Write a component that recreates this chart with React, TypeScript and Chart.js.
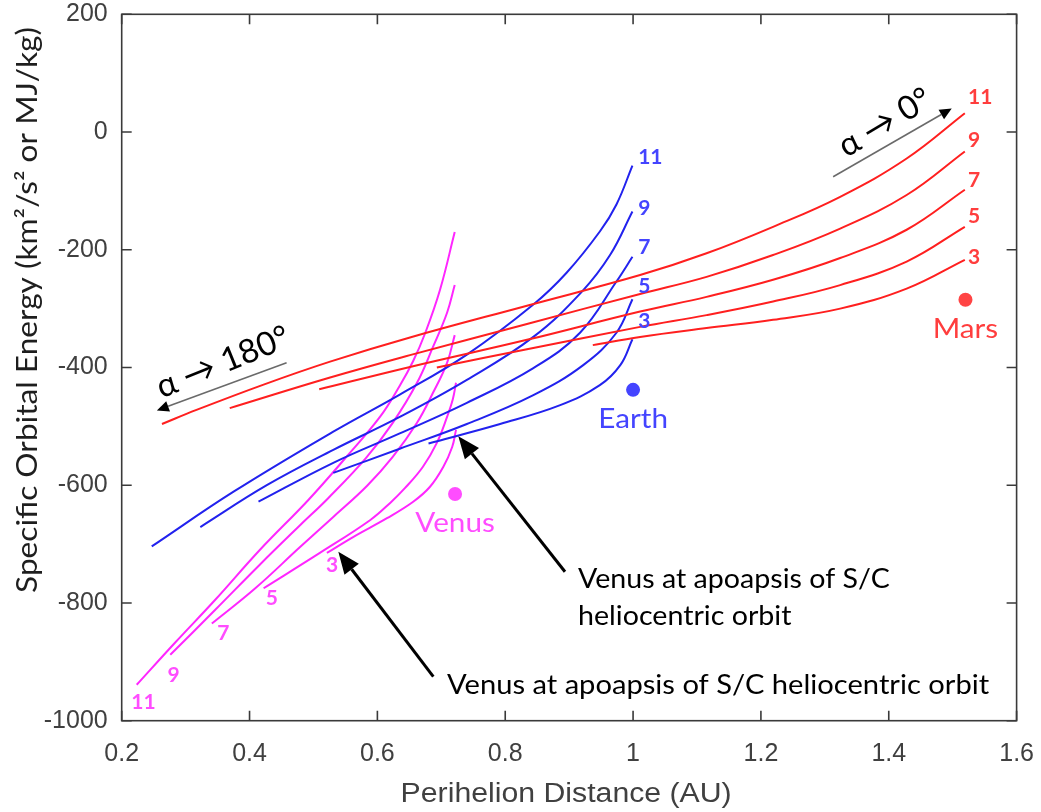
import { useEffect, useRef } from "react";
import { Chart, registerables } from "chart.js";

Chart.register(...registerables);

// ---------- axis ticks ----------
const xTicks = [0.2, 0.4, 0.6, 0.8, 1, 1.2, 1.4, 1.6];
const yTicks = [-1000, -800, -600, -400, -200, 0, 200];

// ---------- Mars family (red) : [perihelion AU, energy MJ/kg] ----------
const mars11: [number, number][] = [[0.263, -496], [0.317, -472], [0.422, -429], [0.526, -390], [0.651, -349], [0.834, -295], [1.011, -243], [1.115, -206], [1.219, -161], [1.324, -110], [1.428, -45], [1.519, 32]];
const mars9: [number, number][] = [[0.369, -469], [0.526, -417], [0.651, -379], [0.834, -326], [1.011, -275], [1.115, -246], [1.219, -209], [1.324, -164], [1.428, -107], [1.519, -33]];
const mars7: [number, number][] = [[0.509, -437], [0.651, -399], [0.834, -353], [1.011, -305], [1.115, -280], [1.219, -251], [1.324, -214], [1.428, -166], [1.519, -98]];
const mars5: [number, number][] = [[0.693, -400], [0.834, -369], [1.011, -331], [1.115, -311], [1.219, -288], [1.324, -260], [1.428, -220], [1.519, -161]];
const mars3: [number, number][] = [[0.937, -362], [1.011, -348], [1.115, -333], [1.219, -319], [1.324, -300], [1.428, -266], [1.519, -217]];

// ---------- Earth family (blue) ----------
const earth11: [number, number][] = [[0.247, -704], [0.375, -611], [0.531, -509], [0.635, -446], [0.740, -378], [0.844, -293], [0.896, -239], [0.948, -169], [0.974, -123], [0.999, -57]];
const earth9: [number, number][] = [[0.323, -671], [0.427, -600], [0.531, -540], [0.635, -484], [0.740, -421], [0.844, -348], [0.920, -271], [0.964, -209], [0.999, -135]];
const earth7: [number, number][] = [[0.414, -628], [0.531, -562], [0.635, -512], [0.740, -460], [0.844, -401], [0.917, -341], [0.974, -254], [0.999, -212]];
const earth5: [number, number][] = [[0.531, -579], [0.635, -538], [0.740, -496], [0.844, -447], [0.922, -396], [0.974, -341], [0.999, -284]];
const earth3: [number, number][] = [[0.680, -529], [0.792, -496], [0.886, -464], [0.948, -430], [0.980, -396], [0.999, -352]];

// ---------- Venus family (magenta) ----------
const venus11: [number, number][] = [[0.2235, -939], [0.283, -868], [0.346, -795], [0.416, -710], [0.492, -625], [0.549, -555], [0.604, -484], [0.635, -431], [0.656, -389], [0.675, -341], [0.698, -268], [0.721, -170]];
const venus9: [number, number][] = [[0.276, -888], [0.346, -812], [0.416, -735], [0.479, -668], [0.523, -622], [0.582, -554], [0.624, -494], [0.662, -426], [0.687, -365], [0.709, -307], [0.721, -260]];
const venus7: [number, number][] = [[0.341, -835], [0.409, -775], [0.479, -705], [0.531, -654], [0.584, -601], [0.624, -552], [0.662, -494], [0.687, -443], [0.709, -392], [0.721, -345]];
const venus5: [number, number][] = [[0.422, -775], [0.510, -715], [0.589, -659], [0.620, -630], [0.643, -605], [0.671, -569], [0.693, -528], [0.709, -484], [0.718, -454], [0.723, -426]];
const venus3: [number, number][] = [[0.521, -715], [0.562, -688], [0.615, -656], [0.656, -628], [0.682, -603], [0.703, -569], [0.717, -535], [0.723, -506]];

// ---------- planets ----------
const planetNames = ["Venus", "Earth", "Mars"];
const planetX = [0.7215, 1.0, 1.52];
const planetY = [-615, -438, -285];

// ---------- curve labels ----------
const curveNumbers = ["11", "9", "7", "5", "3"];
const marsLabelX = [1.524, 1.524, 1.524, 1.524, 1.524];
const marsLabelY = [59, -14, -82, -143, -212];
const earthLabelX = [1.008, 1.008, 1.008, 1.008, 1.008];
const earthLabelY = [-42, -129, -195, -262, -322];
const venusLabelX = [0.234, 0.281, 0.359, 0.435, 0.529];
const venusLabelY = [-968, -922, -852, -792, -736];

// ---------- annotations (data coordinates) ----------
const alpha180Arrow = { from: [0.458, -392], to: [0.255, -473] };
const alpha0Arrow = { from: [1.313, -76], to: [1.4985, 40] };
const alpha180Text = { text: "α → 180°", at: [0.3585, -391] };
const alpha0Text = { text: "α → 0°", at: [1.394, 16] };
const apoArrow1 = { from: [0.8935, -747], to: [0.7266, -517] };
const apoArrow2 = { from: [0.6875, -925], to: [0.5389, -713] };
const apoText1 = ["Venus at apoapsis of S/C", "heliocentric orbit"];
const apoText1At = [0.9139, -760, -824];
const apoText2 = "Venus at apoapsis of S/C heliocentric orbit";
const apoText2At = [0.7089, -941];

const RED = "#ff1f1f";
const BLUE = "#2222ee";
const MAGENTA = "#ff26ff";
const RED_T = "#ff3d3d";
const BLUE_T = "#4444ff";
const MAG_T = "#ff4dff";
const CAL = "Lato, 'Noto Sans', 'DejaVu Sans', sans-serif";
const ARIAL = "'Liberation Sans', Arial, sans-serif";
const SX = 1.1; // horizontal stretch of the reference text

const toPts = (a: [number, number][]) => a.map(([x, y]) => ({ x, y }));

const line = (d: [number, number][], color: string) => ({
  data: toPts(d),
  borderColor: color,
  backgroundColor: color,
  borderWidth: 2,
  pointRadius: 0,
  showLine: true,
  fill: false,
  tension: 0.4,
});

const overlay = {
  id: "overlay",
  afterDraw(chart: any) {
    const ctx: CanvasRenderingContext2D = chart.ctx;
    const xs = chart.scales.x;
    const ys = chart.scales.y;
    const px = (v: number) => xs.getPixelForValue(v);
    const py = (v: number) => ys.getPixelForValue(v);
    const { left, right, top, bottom } = chart.chartArea;

    const text = (t: string, x: number, y: number, align: CanvasTextAlign, sx = SX) => {
      ctx.save();
      ctx.translate(x, y);
      ctx.scale(sx, 1);
      ctx.textAlign = align;
      ctx.textBaseline = "middle";
      ctx.fillText(t, 0, 0);
      ctx.restore();
    };

    ctx.save();
    // frame with inward ticks
    ctx.strokeStyle = "#3a3a3a";
    ctx.lineWidth = 1.6;
    ctx.strokeRect(left, top, right - left, bottom - top);
    ctx.beginPath();
    const tl = 10;
    xTicks.forEach((v) => {
      const x = px(v);
      ctx.moveTo(x, bottom); ctx.lineTo(x, bottom - tl);
      ctx.moveTo(x, top); ctx.lineTo(x, top + tl);
    });
    yTicks.forEach((v) => {
      const y = py(v);
      ctx.moveTo(left, y); ctx.lineTo(left + tl, y);
      ctx.moveTo(right, y); ctx.lineTo(right - tl, y);
    });
    ctx.stroke();

    // axis titles
    ctx.fillStyle = "#404040";
    ctx.font = `27px ${ARIAL}`;
    text("Perihelion Distance (AU)", (left + right) / 2 - 3, 795, "center", 1.12);

    ctx.save();
    ctx.translate(28, 310);
    ctx.rotate(-Math.PI / 2);
    ctx.scale(1.13, 1);
    ctx.fillStyle = "#1e1e1e";
    ctx.font = `28px ${CAL}`;
    ctx.textAlign = "center";
    ctx.textBaseline = "middle";
    ctx.fillText("Specific Orbital Energy (km²/s² or MJ/kg)", 0, 0);
    ctx.restore();

    // curve labels
    ctx.font = `bold 21px ${CAL}`;
    ctx.fillStyle = RED_T;
    curveNumbers.forEach((t, i) => text(t, px(marsLabelX[i]), py(marsLabelY[i]), "left", 1));
    ctx.fillStyle = BLUE_T;
    curveNumbers.forEach((t, i) => text(t, px(earthLabelX[i]), py(earthLabelY[i]), "left", 1));
    ctx.fillStyle = MAG_T;
    curveNumbers.forEach((t, i) => text(t, px(venusLabelX[i]), py(venusLabelY[i]), "center", 1));

    // planet names
    ctx.font = `27px ${CAL}`;
    const nameColors = [MAG_T, BLUE_T, RED_T];
    planetNames.forEach((n, i) => {
      ctx.fillStyle = nameColors[i];
      text(n, px(planetX[i]), py(planetY[i]) + 29, "center");
    });

    // arrows
    const arrow = (a: any, color: string, headColor: string, w: number, L: number, W: number) => {
      const x1 = px(a.from[0]), y1 = py(a.from[1]);
      const x2 = px(a.to[0]), y2 = py(a.to[1]);
      const ang = Math.atan2(y2 - y1, x2 - x1);
      const bx = x2 - L * Math.cos(ang), by = y2 - L * Math.sin(ang);
      ctx.strokeStyle = color;
      ctx.lineWidth = w;
      ctx.beginPath();
      ctx.moveTo(x1, y1);
      ctx.lineTo(bx, by);
      ctx.stroke();
      ctx.fillStyle = headColor;
      ctx.beginPath();
      ctx.moveTo(x2, y2);
      ctx.lineTo(bx + W * Math.sin(ang), by - W * Math.cos(ang));
      ctx.lineTo(bx - W * Math.sin(ang), by + W * Math.cos(ang));
      ctx.closePath();
      ctx.fill();
    };
    arrow(alpha180Arrow, "#6a6a6a", "#000", 1.6, 12, 5.5);
    arrow(alpha0Arrow, "#6a6a6a", "#000", 1.6, 12, 5.5);
    arrow(apoArrow1, "#000", "#000", 3, 22, 9);
    arrow(apoArrow2, "#000", "#000", 3, 22, 9);

    // alpha texts
    const rot = (o: any, deg: number) => {
      ctx.save();
      ctx.translate(px(o.at[0]), py(o.at[1]));
      ctx.rotate((deg * Math.PI) / 180);
      ctx.fillStyle = "#000";
      ctx.font = `33px ${CAL}`;
      ctx.textAlign = "center";
      ctx.textBaseline = "middle";
      ctx.fillText(o.text, 0, 0);
      ctx.restore();
    };
    rot(alpha180Text, -22);
    rot(alpha0Text, -31);

    // apoapsis texts
    ctx.fillStyle = "#000";
    ctx.font = `26px ${CAL}`;
    text(apoText1[0], px(apoText1At[0]), py(apoText1At[1]), "left");
    text(apoText1[1], px(apoText1At[0]), py(apoText1At[2]), "left");
    text(apoText2, px(apoText2At[0]), py(apoText2At[1]), "left", 1.12);
    ctx.restore();
  },
};

export default function App() {
  const ref = useRef<HTMLCanvasElement>(null);
  useEffect(() => {
    if (!ref.current) return;
    const chart = new Chart(ref.current, {
      type: "scatter",
      data: {
        datasets: [
          line(mars11, RED), line(mars9, RED), line(mars7, RED), line(mars5, RED), line(mars3, RED),
          line(earth11, BLUE), line(earth9, BLUE), line(earth7, BLUE), line(earth5, BLUE), line(earth3, BLUE),
          line(venus11, MAGENTA), line(venus9, MAGENTA), line(venus7, MAGENTA), line(venus5, MAGENTA), line(venus3, MAGENTA),
          {
            data: planetX.map((x, i) => ({ x, y: planetY[i] })),
            pointRadius: 7,
            pointBorderWidth: 0,
            pointBackgroundColor: ["#ff4dff", "#4444ff", "#ff4444"],
            showLine: false,
          } as any,
        ],
      },
      options: {
        animation: false,
        responsive: false,
        devicePixelRatio: 1,
        layout: { padding: { top: 14.3, right: 24.4, left: 0, bottom: 0 } },
        plugins: { legend: { display: false }, tooltip: { enabled: false } },
        scales: {
          x: {
            type: "linear",
            min: 0.2,
            max: 1.6,
            grid: { display: false, drawTicks: false },
            border: { display: false },
            afterBuildTicks: (s: any) => { s.ticks = xTicks.map((v) => ({ value: v })); },
            afterFit: (s: any) => { s.height = 91.3; s.paddingLeft = 0; s.paddingRight = 0; },
            ticks: {
              autoSkip: false,
              maxRotation: 0,
              padding: 18,
              color: "#404040",
              font: { family: ARIAL, size: 25 },
              callback: (v: any) => String(v),
            },
          },
          y: {
            type: "linear",
            min: -1000,
            max: 200,
            grid: { display: false, drawTicks: false },
            border: { display: false },
            afterBuildTicks: (s: any) => { s.ticks = yTicks.map((v) => ({ value: v })); },
            afterFit: (s: any) => { s.width = 121.7; s.paddingTop = 0; s.paddingBottom = 0; },
            ticks: {
              padding: 14,
              color: "#404040",
              font: { family: ARIAL, size: 25 },
              callback: (v: any) => String(v),
            },
          },
        },
      },
      plugins: [overlay],
    } as any);
    return () => chart.destroy();
  }, []);
  return (
    <div style={{ position: "absolute", left: 0, top: 0, width: 1041, height: 812, background: "#fff" }}>
      <canvas ref={ref} width={1041} height={812} style={{ display: "block" }} />
    </div>
  );
}
